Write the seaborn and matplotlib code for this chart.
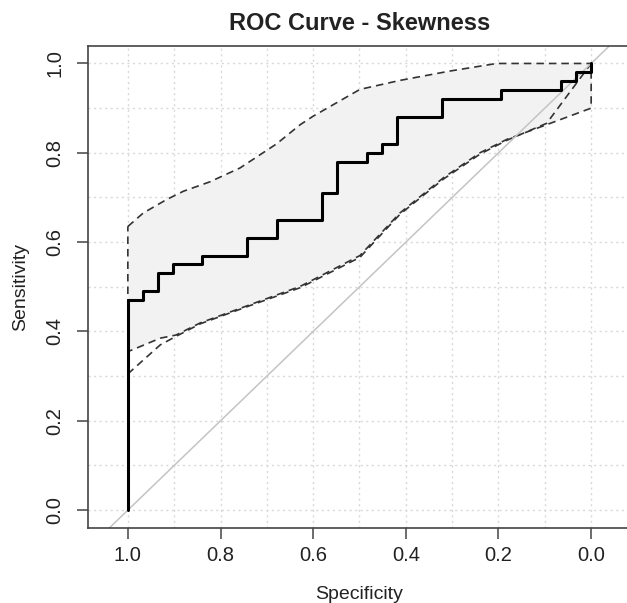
"""
ROC curve for the skewness feature, with the confidence band of sensitivity.
"""
import seaborn as sns
import pandas as pd
import matplotlib.pyplot as plt
from matplotlib.ticker import MultipleLocator

# Step curve (specificity at each vertical rise, sensitivity after it).
specificity = [1.0, 1.0, 0.968, 0.935, 0.903, 0.839, 0.742, 0.677, 0.581, 0.548,
               0.484, 0.452, 0.419, 0.323, 0.194, 0.065, 0.032, 0.0]
sensitivity = [0.0, 0.47, 0.49, 0.53, 0.55, 0.57, 0.61, 0.65, 0.71, 0.78,
               0.80, 0.82, 0.88, 0.92, 0.94, 0.96, 0.98, 1.0]

# Upper edge of the confidence band.
upper_spec = [1.0, 0.967, 0.917, 0.88, 0.823, 0.758, 0.679, 0.628, 0.60, 0.499,
              0.413, 0.305, 0.204, 0.0]
upper_sens = [0.635, 0.665, 0.695, 0.714, 0.735, 0.766, 0.82, 0.863, 0.882, 0.942,
              0.962, 0.983, 1.0, 1.0]

# Lower edge of the band (the one closing the shaded shape).
lower_spec = [1.0, 0.99, 0.93, 0.896, 0.844, 0.736, 0.628, 0.607, 0.499, 0.413,
              0.319, 0.24, 0.182, 0.096, 0.0]
lower_sens = [0.355, 0.359, 0.385, 0.392, 0.419, 0.46, 0.501, 0.512, 0.57, 0.665,
              0.744, 0.80, 0.83, 0.863, 0.90]

# Second lower dashed line.
lower2_spec = [1.0, 0.93, 0.896, 0.844, 0.736, 0.628, 0.607, 0.499, 0.413,
               0.319, 0.24, 0.182, 0.096, 0.0]
lower2_sens = [0.305, 0.37, 0.389, 0.417, 0.458, 0.498, 0.509, 0.566, 0.662,
               0.741, 0.797, 0.828, 0.866, 1.0]

ticks = [1.0, 0.8, 0.6, 0.4, 0.2, 0.0]
tick_labels = ["1.0", "0.8", "0.6", "0.4", "0.2", "0.0"]


def gen_roc():
    sns.set_style("white")
    plt.rcParams["font.family"] = ["Liberation Sans", "DejaVu Sans"]
    txt = "#222222"

    fig = plt.figure(figsize=(6.27, 6.03), dpi=100)
    ax = fig.add_axes([88 / 627, 75 / 603, 543 / 627, 482.4 / 603])

    # Dotted grid under everything.
    ax.xaxis.set_minor_locator(MultipleLocator(0.1))
    ax.yaxis.set_minor_locator(MultipleLocator(0.1))
    ax.grid(True, which="both", color="#d8d8d8", linestyle=(0, (1.5, 2.5)),
            linewidth=1.0, zorder=0)
    ax.set_axisbelow(True)

    # Shaded band with dashed border.
    band_x = upper_spec + lower_spec[::-1]
    band_y = upper_sens + lower_sens[::-1]
    ax.fill(band_x, band_y, facecolor="#f2f2f2", edgecolor="#333333",
            linestyle=(0, (4.5, 3)), linewidth=1.2, zorder=1)

    df2 = pd.DataFrame({"spec": lower2_spec, "sens": lower2_sens})
    sns.lineplot(data=df2, x="spec", y="sens", sort=False, estimator=None, ax=ax,
                 color="#333333", linewidth=1.2, zorder=2)
    ax.lines[-1].set_dashes((4.5, 3))

    # Chance diagonal.
    ax.axline((1, 0), (0, 1), color="#c4c4c4", linewidth=1.1, zorder=2)

    # ROC step curve.
    df = pd.DataFrame({"spec": specificity, "sens": sensitivity})
    sns.lineplot(data=df, x="spec", y="sens", sort=False, estimator=None, ax=ax,
                 color="black", linewidth=2.2, drawstyle="steps-post", zorder=3)

    ax.set_xlim(1.086, -0.086)
    ax.set_ylim(-0.04, 1.04)
    ax.set_xticks(ticks)
    ax.set_xticklabels(tick_labels)
    ax.set_yticks(ticks)
    ax.set_yticklabels(tick_labels, rotation=90, va="center")
    ax.tick_params(axis="both", which="major", length=8, width=1.1,
                   color="#444444", labelsize=14.5, labelcolor=txt, pad=9,
                   direction="out", bottom=True, left=True)
    ax.tick_params(axis="x", which="major", pad=5)
    ax.tick_params(axis="both", which="minor", length=0)
    for s in ax.spines.values():
        s.set_color("#444444")
        s.set_linewidth(1.2)

    ax.set_title("ROC Curve - Skewness", fontsize=17, fontweight="bold",
                 color=txt, pad=11)
    ax.set_xlabel("Specificity", fontsize=14, color=txt, labelpad=15)
    ax.set_ylabel("Sensitivity", fontsize=14, color=txt, labelpad=12)

    plt.savefig("out.png", dpi=100)


if __name__ == "__main__":
    gen_roc()
